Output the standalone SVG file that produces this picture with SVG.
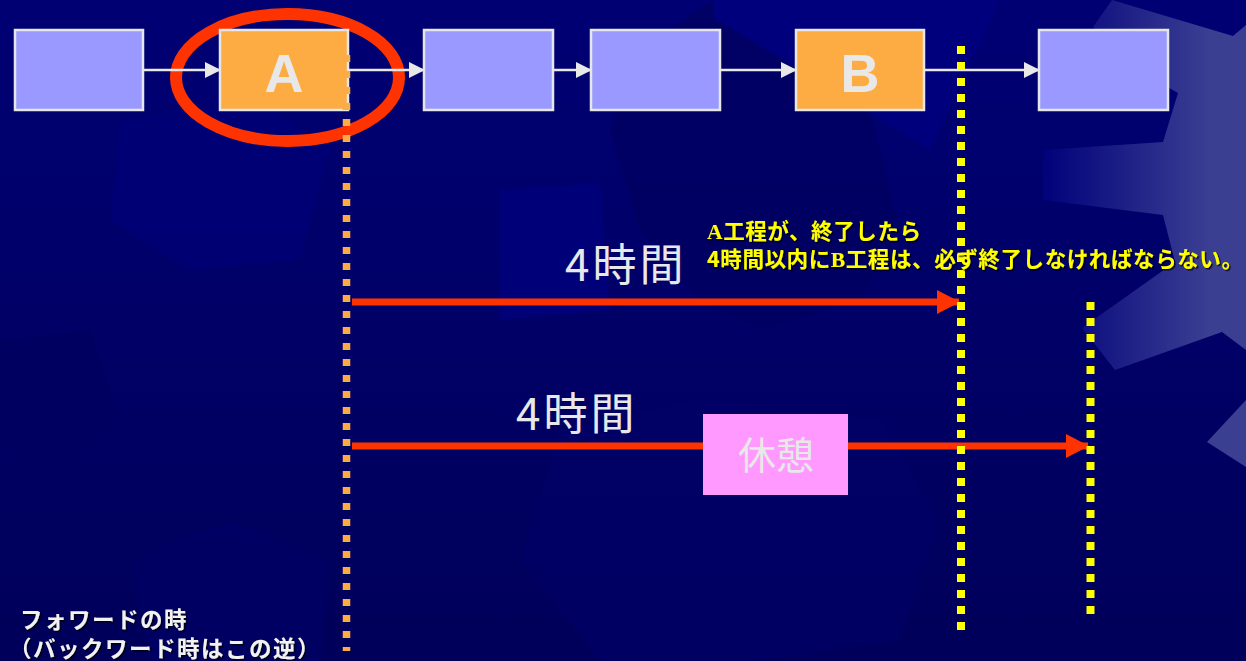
<svg xmlns="http://www.w3.org/2000/svg" width="1246" height="661" viewBox="0 0 1246 661">
<defs>
<linearGradient id="bg" x1="0" y1="0" x2="0" y2="1">
<stop offset="0" stop-color="#000074"/>
<stop offset="1" stop-color="#00005a"/>
</linearGradient>
<linearGradient id="gearR" gradientUnits="userSpaceOnUse" x1="1040" y1="0" x2="1210" y2="0">
<stop offset="0" stop-color="#00007a"/>
<stop offset="1" stop-color="#3b3f92"/>
</linearGradient>
<marker id="wh" markerUnits="userSpaceOnUse" markerWidth="16" markerHeight="16" refX="15" refY="8" orient="auto" viewBox="0 0 16 16">
<path d="M0,0 L16,8 L0,16 Z" fill="#e8e8e8"/>
</marker>
<marker id="rd" markerUnits="userSpaceOnUse" markerWidth="23" markerHeight="24" refX="22" refY="12" orient="auto" viewBox="0 0 23 24">
<path d="M0,0 L23,12 L0,24 Z" fill="#ff3300"/>
</marker>
<filter id="sh" x="-5%" y="-20%" width="110%" height="150%">
<feDropShadow dx="1.5" dy="1.5" stdDeviation="0.6" flood-color="#000000" flood-opacity="0.8"/>
</filter>
<style>
.box{stroke:#e6e6e6;stroke-width:2.5}
.blue{fill:#9999ff}
.orange{fill:#fdab43}
.big{font-family:"Liberation Sans",Arial,sans-serif;font-weight:bold;font-size:54px;fill:#e8e8e8;text-anchor:middle}
.hrs{font-family:"Noto Sans CJK JP","Noto Sans",sans-serif;font-size:44px;letter-spacing:3px;fill:#e8e8e8}
.note{font-family:"Noto Sans CJK JP",sans-serif;font-weight:bold;font-size:21.5px;letter-spacing:0.6px;fill:#ffff00}
.ser{font-family:"Liberation Serif","Noto Sans CJK JP",serif;font-weight:bold}
.foot{font-family:"Noto Sans CJK JP",sans-serif;font-weight:bold;font-size:22.5px;letter-spacing:1.5px;fill:#f2f2f2}
.wline{stroke:#e8e8e8;stroke-width:2.5;fill:none;marker-end:url(#wh)}
.rline{stroke:#ff3300;stroke-width:7;fill:none;marker-end:url(#rd)}
.ydot{stroke:#ffff00;stroke-width:8;stroke-dasharray:8 8;fill:none}
.odot{stroke:#fdab43;stroke-width:7.5;stroke-dasharray:7 9;fill:none}
</style>
</defs>

<g id="background">
<rect x="0" y="0" width="1246" height="661" fill="url(#bg)"/>
<polygon points="713,0 800,60 870,110 900,230 860,300 760,330 700,300 640,230 610,130 640,50" fill="#000062" opacity="0.8"/>
<polygon points="713,0 713,17 930,150 1000,0" fill="#00007c"/>
<polygon points="500,190 600,183 610,310 500,320" fill="#00007c" opacity="0.8"/>
<polygon points="120,120 260,100 330,150 300,260 190,270 110,220" fill="#00007a" opacity="0.6"/>
<polygon points="0,340 90,330 120,420 60,470 0,450" fill="#000060" opacity="0.7"/>
<polygon points="560,430 700,400 880,420 940,520 900,640 760,661 600,661 520,560" fill="#000066" opacity="0.7"/>
<polygon points="130,560 230,520 330,560 320,661 150,661" fill="#000068" opacity="0.6"/>
<polygon points="1112,0 1093,27 1120,60 1178,93 1163,142 1043,150 1043,200 1163,215 1175,262 1082,328 1115,370 1222,332 1246,350 1246,25 1233,36" fill="url(#gearR)"/>
<polygon points="1207,442 1246,400 1246,467" fill="#3b3f92"/>
</g>

<g id="highlight-ellipse">
<ellipse cx="287.5" cy="77.5" rx="111.5" ry="63.5" fill="none" stroke="#ff3300" stroke-width="12"/>
</g>

<g id="connectors">
<line class="wline" x1="143" y1="70" x2="220" y2="70"/>
<line class="wline" x1="348" y1="70" x2="424" y2="70"/>
<line class="wline" x1="553" y1="70" x2="591" y2="70"/>
<line class="wline" x1="720" y1="70" x2="796" y2="70"/>
<line class="wline" x1="924" y1="70" x2="1039" y2="70"/>
<line class="rline" x1="352" y1="302" x2="959" y2="302"/>
<line class="rline" x1="352" y1="446" x2="1088" y2="446"/>
</g>

<g id="node-1"><rect class="box blue" x="15" y="30" width="128" height="80"/></g>
<g id="node-A"><rect class="box orange" x="220" y="30" width="128" height="80"/><text class="big" x="284" y="92">A</text></g>
<g id="node-3"><rect class="box blue" x="424" y="30" width="129" height="80"/></g>
<g id="node-4"><rect class="box blue" x="591" y="30" width="129" height="80"/></g>
<g id="node-B"><rect class="box orange" x="796" y="30" width="128" height="80"/><text class="big" x="860" y="92">B</text></g>
<g id="node-6"><rect class="box blue" x="1039" y="30" width="129" height="80"/></g>

<g id="guides">
<line class="odot" x1="346.5" y1="55" x2="346.5" y2="651"/>
<line class="ydot" x1="961" y1="46" x2="961" y2="630"/>
<line class="ydot" x1="1090.5" y1="302" x2="1090.5" y2="614"/>
</g>

<g id="node-rest">
<rect x="703" y="414" width="145" height="81" fill="#ff99ff"/>
<text x="776" y="469" text-anchor="middle" style="font-family:'Noto Sans CJK JP',sans-serif;font-size:38px;fill:#e8e8e8">休憩</text>
</g>

<g id="labels">
<text class="hrs" x="565" y="281">4時間</text>
<text class="hrs" x="516" y="430">4時間</text>
<g filter="url(#sh)">
<text class="note" x="707" y="239"><tspan class="ser">A</tspan>工程が、終了したら</text>
<text class="note" x="707" y="267">4時間以内に<tspan class="ser">B</tspan>工程は、必ず終了しなければならない。</text>
</g>
<g filter="url(#sh)">
<text class="foot" x="20" y="628">フォワードの時</text>
<text class="foot" x="9" y="657">（バックワード時はこの逆）</text>
</g>
</g>
</svg>
